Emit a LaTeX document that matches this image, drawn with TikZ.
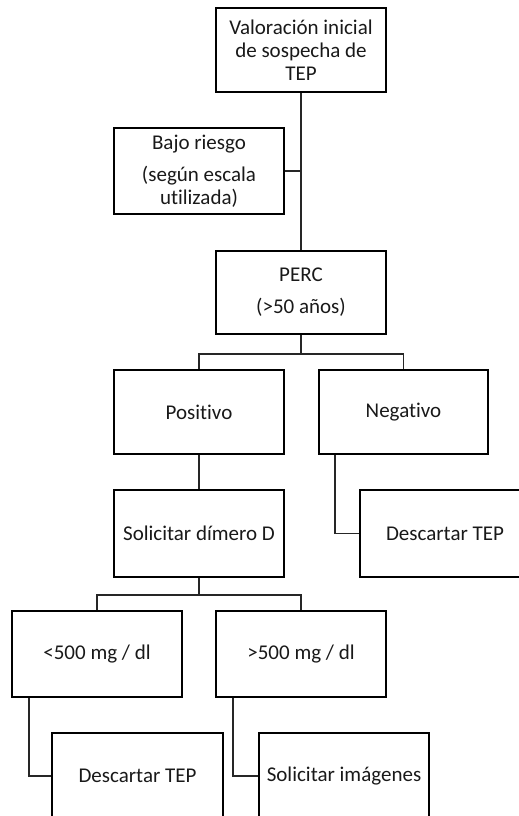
\documentclass[tikz,border=0pt]{standalone}
\usepackage{fontspec}
\setmainfont{Carlito}[Ligatures=NoCommon]
\usetikzlibrary{calc}
\begin{document}
\begin{tikzpicture}[x=1pt,y=-1pt,
  box/.style={draw=black, line width=1.6pt, rectangle, inner sep=0pt,
    minimum width=170pt, minimum height=86pt, align=center,
    font=\fontsize{21}{23}\selectfont, text=black!90},
  conn/.style={draw=black!85, line width=1.7pt}]
\useasboundingbox (0,0) rectangle (519,816);
\clip (0,0) rectangle (519,816);
\node[box, minimum height=84pt] (top) at (301,50) {Valoración inicial\\de sospecha de\\TEP};
\node[box] (bajo) at (199,171) {Bajo riesgo\\[9pt](según escala\\utilizada)};
\node[box, minimum height=83pt] (perc) at (301,292.5) {PERC\\[9pt](>50 años)};
\node[box, minimum height=84pt] (pos) at (199,412) {Positivo};
\node[box, minimum height=84pt, minimum width=169pt] (neg) at (403.5,412) {Negativo};
\node[box, minimum height=87pt] (sol) at (199,533.5) {Solicitar dímero D};
\node[box, minimum height=87pt] (desc1) at (445,533.5) {Descartar TEP};
\node[box] (lt) at (97,654) {<500 mg / dl};
\node[box] (gt) at (301,654) {>500 mg / dl};
\node[box, minimum width=171pt] (desc2) at (137.5,776) {Descartar TEP};
\node[box] (img) at (344,776) {Solicitar imágenes};
% connectors
\draw[conn] (top.south) -- (perc.north);
\draw[conn] (bajo.east) -- (bajo.east -| top.south);
\coordinate (j1) at ($(perc.south)+(0,19)$);
\draw[conn] (perc.south) -- (j1) -| (pos.north);
\draw[conn] (j1) -| (neg.north);
\draw[conn] (pos.south) -- (sol.north);
\coordinate (n1) at ($(neg.south west)+(17,0)$);
\draw[conn] (n1) |- (desc1.west);
\coordinate (j2) at ($(sol.south)+(0,17)$);
\draw[conn] (sol.south) -- (j2) -| (lt.north);
\draw[conn] (j2) -| (gt.north);
\coordinate (l1) at ($(lt.south west)+(18,0)$);
\draw[conn] (l1) |- (desc2.west);
\coordinate (g1) at ($(gt.south west)+(18,0)$);
\draw[conn] (g1) |- (img.west);
\end{tikzpicture}
\end{document}
